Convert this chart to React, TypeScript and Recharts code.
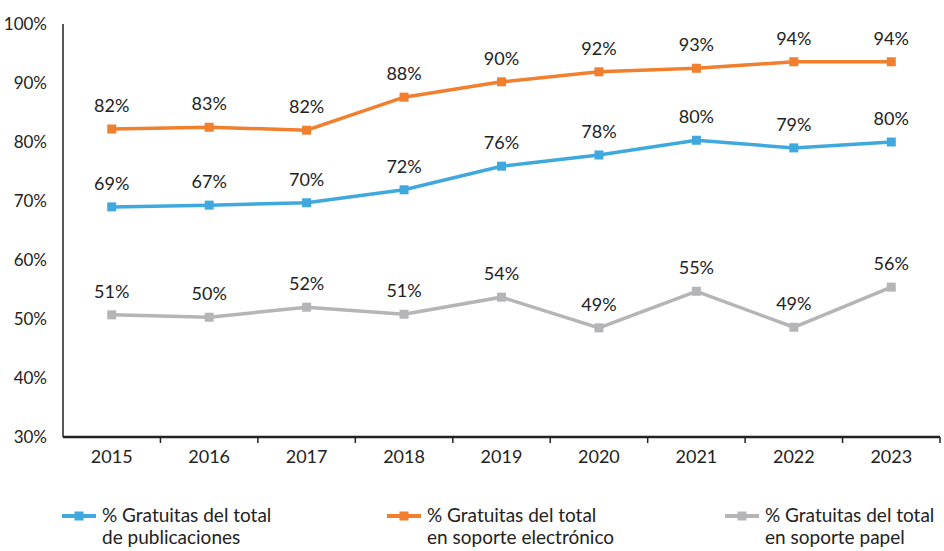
import React from "react";
import {
  LineChart,
  Line,
  XAxis,
  YAxis,
  Legend,
  LabelList,
} from "recharts";

const years = ["2015", "2016", "2017", "2018", "2019", "2020", "2021", "2022", "2023"];
const totalPub = [69.0, 69.3, 69.7, 71.9, 75.9, 77.8, 80.3, 79.0, 80.0];
const electronic = [82.2, 82.5, 82.0, 87.6, 90.2, 91.9, 92.5, 93.6, 93.6];
const paper = [50.7, 50.3, 52.0, 50.8, 53.7, 48.5, 54.7, 48.6, 55.4];
const totalPubLabels = ["69%", "67%", "70%", "72%", "76%", "78%", "80%", "79%", "80%"];
const electronicLabels = ["82%", "83%", "82%", "88%", "90%", "92%", "93%", "94%", "94%"];
const paperLabels = ["51%", "50%", "52%", "51%", "54%", "49%", "55%", "49%", "56%"];
const yTicks = [30, 40, 50, 60, 70, 80, 90, 100];

const series = [
  { key: "pub", label: "pubLabel", color: "#3FA9DD", name: ["% Gratuitas del total", "de publicaciones"] },
  { key: "elec", label: "elecLabel", color: "#F07F2E", name: ["% Gratuitas del total", "en soporte electrónico"] },
  { key: "papel", label: "papelLabel", color: "#B5B5B7", name: ["% Gratuitas del total", "en soporte papel"] },
];

const data = years.map((year, i) => ({
  year,
  pub: totalPub[i],
  elec: electronic[i],
  papel: paper[i],
  pubLabel: totalPubLabels[i],
  elecLabel: electronicLabels[i],
  papelLabel: paperLabels[i],
}));

const FONT = "Lato, 'Open Sans', sans-serif";
const W = 944;
const H = 551;
const MARGIN = { top: 24, right: 4, bottom: 34, left: 0 };
const Y_WIDTH = 63;
const LEGEND_H = 50;
const BAND = (W - MARGIN.left - MARGIN.right - Y_WIDTH) / years.length;

const squareDot = (color: string) => (props: any) => {
  const { cx, cy, index } = props;
  if (cx == null || cy == null) return <g key={index} />;
  return <rect key={index} x={cx - 4.5} y={cy - 4.5} width={9} height={9} fill={color} />;
};

const XTick = (props: any) => {
  const { x, y, payload, index } = props;
  return (
    <g>
      {index > 0 && (
        <line x1={x - BAND / 2} x2={x - BAND / 2} y1={y - 8} y2={y - 2} stroke="#222" strokeWidth={1.5} />
      )}
      {index === years.length - 1 && (
        <line x1={x + BAND / 2} x2={x + BAND / 2} y1={y - 8} y2={y - 2} stroke="#222" strokeWidth={1.5} />
      )}
      <text x={x} y={y + 18} textAnchor="middle" fill="#222" fontSize={18} fontFamily={FONT}>
        {payload.value}
      </text>
    </g>
  );
};

const LegendContent = () => (
  <div style={{ position: "relative", height: LEGEND_H, fontFamily: FONT, fontSize: 19, color: "#222" }}>
    {series.map((s, i) => (
      <div
        key={s.key}
        style={{ position: "absolute", left: [62, 387, 725][i], top: 3, display: "flex", alignItems: "flex-start" }}
      >
        <svg width={34} height={14} style={{ marginTop: 5, marginRight: 6 }}>
          <line x1={0} x2={34} y1={7} y2={7} stroke={s.color} strokeWidth={4} />
          <rect x={12.5} y={2.5} width={9} height={9} fill={s.color} />
        </svg>
        <div style={{ lineHeight: "22px", whiteSpace: "nowrap" }}>
          {s.name[0]}
          <br />
          {s.name[1]}
        </div>
      </div>
    ))}
  </div>
);

export default function App() {
  return (
    <div style={{ position: "absolute", left: 0, top: 0, width: W, height: H, background: "#fff" }}>
      <LineChart width={W} height={H} data={data} margin={MARGIN}>
        <XAxis
          dataKey="year"
          scale="band"
          axisLine={{ stroke: "#222", strokeWidth: 2.5 }}
          tickLine={false}
          tick={<XTick />}
          height={30}
          interval={0}
        />
        <YAxis
          domain={[30, 100]}
          ticks={yTicks}
          width={Y_WIDTH}
          axisLine={{ stroke: "#222", strokeWidth: 1.5 }}
          tickLine={false}
          tickMargin={10}
          tickFormatter={(v) => `${v}%`}
          tick={{ fill: "#222", fontSize: 17, fontFamily: FONT }}
        />
        <Legend
          verticalAlign="bottom"
          content={<LegendContent />}
          wrapperStyle={{ left: 0, bottom: 0, width: W, height: LEGEND_H }}
        />
        {series.map((s) => (
          <Line
            key={s.key}
            dataKey={s.key}
            stroke={s.color}
            strokeWidth={3.5}
            dot={squareDot(s.color)}
            activeDot={false}
            isAnimationActive={false}
          >
            <LabelList
              dataKey={s.label}
              position="top"
              offset={17}
              fill="#222"
              fontSize={18}
              fontFamily={FONT}
            />
          </Line>
        ))}
      </LineChart>
    </div>
  );
}
